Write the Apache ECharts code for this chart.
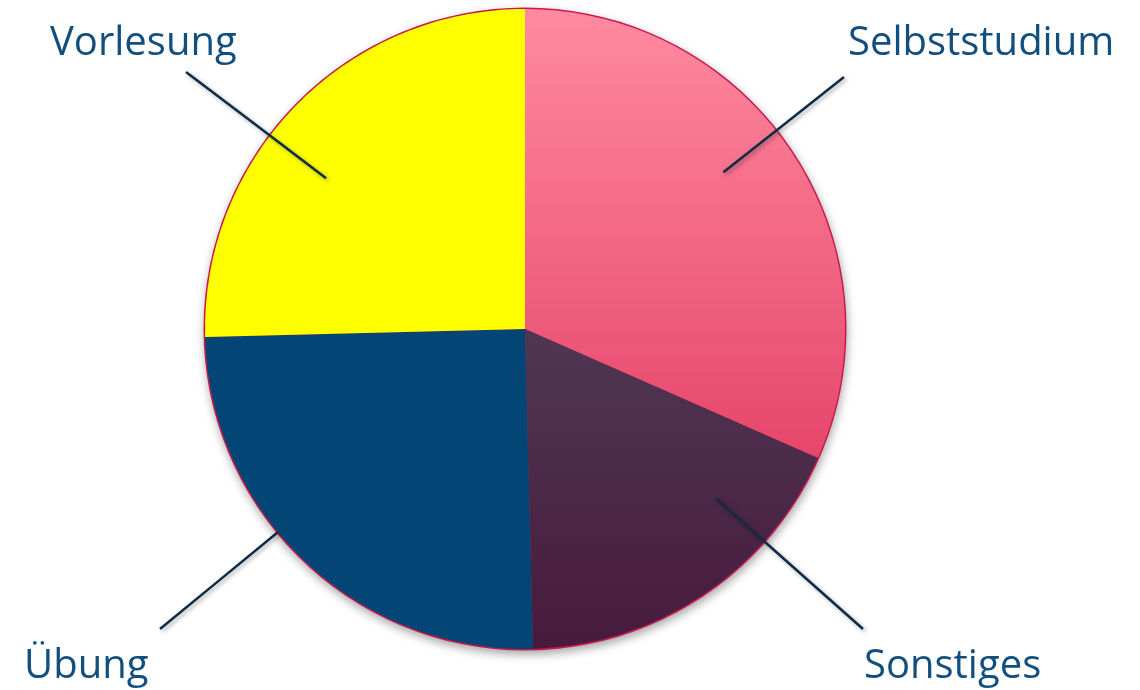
<!DOCTYPE html>
<html>
<head>
<meta charset="utf-8">
<script src="https://cdn.jsdelivr.net/npm/echarts@6/dist/echarts.min.js"></script>
<style>
  html, body { margin: 0; padding: 0; background: #fff; }
  #chart { width: 1140px; height: 690px; }
</style>
</head>
<body>
<div id="chart"></div>
<script>
// Anteile je Lernform (in %)
var categories = ['Selbststudium', 'Sonstiges', 'Übung', 'Vorlesung'];
var shares = [31.6, 18.0, 25.0, 25.4];

var pieCenter = [525, 329];
var pieRadius = 320;

// Füllungen je Segment
var fills = {
  'Selbststudium': new echarts.graphic.LinearGradient(0, 0, 0, 1, [
    { offset: 0, color: '#ff8a9f' },
    { offset: 1, color: '#e6466b' }
  ]),
  'Sonstiges': new echarts.graphic.LinearGradient(0, 0, 0, 1, [
    { offset: 0, color: '#4f3752' },
    { offset: 1, color: '#481a3d' }
  ]),
  'Übung': '#034575',
  'Vorlesung': '#ffff00'
};

// Lage der Beschriftungen und Endpunkte der Führungslinien
var labelSpots = {
  'Vorlesung':     { x: 50,  y: 44,  endX: 186, endY: 72,  startR: 0.78 },
  'Selbststudium': { x: 848, y: 44,  endX: 844, endY: 77,  startR: 0.79 },
  'Sonstiges':     { x: 864, y: 667, endX: 863, endY: 629, startR: 0.8 },
  'Übung':         { x: 24,  y: 667, endX: 160, endY: 629, startR: 1.0 }
};

var total = 0;
shares.forEach(function (v) { total += v; });

var pieData = categories.map(function (name, i) {
  return { name: name, value: shares[i], itemStyle: { color: fills[name] } };
});

var chart = echarts.init(document.getElementById('chart'));

var option = {
  animation: false,
  series: [
    {
      // Rand und Schatten der Torte
      type: 'pie',
      silent: true,
      z: 1,
      center: pieCenter,
      radius: pieRadius + 1.5,
      label: { show: false },
      labelLine: { show: false },
      emphasis: { disabled: true },
      itemStyle: {
        color: '#c8194f',
        borderWidth: 0,
        shadowBlur: 10,
        shadowOffsetX: 1,
        shadowOffsetY: 4,
        shadowColor: 'rgba(0,0,0,0.35)'
      },
      data: [{ value: total, name: 'rim' }]
    },
    {
      type: 'pie',
      z: 2,
      center: pieCenter,
      radius: pieRadius,
      startAngle: 90,
      clockwise: true,
      emphasis: { disabled: true },
      itemStyle: { borderWidth: 0 },
      label: { show: false },
      labelLine: { show: false },
      data: pieData
    },
    {
      // gleiche Daten, unsichtbar, nur für Beschriftungen und Linien über der Torte
      type: 'pie',
      z: 3,
      silent: true,
      center: pieCenter,
      radius: pieRadius,
      startAngle: 90,
      clockwise: true,
      avoidLabelOverlap: false,
      emphasis: { disabled: true },
      itemStyle: { color: 'rgba(0,0,0,0)', borderWidth: 0 },
      label: {
        show: true,
        position: 'outside',
        formatter: '{b}',
        fontFamily: 'Open Sans',
        fontSize: 40,
        color: '#134f7e'
      },
      labelLine: {
        show: true,
        length: 10,
        length2: 0,
        lineStyle: {
          color: '#0f2b46',
          width: 2.5,
          shadowBlur: 4,
          shadowOffsetX: 2,
          shadowOffsetY: 2,
          shadowColor: 'rgba(0,0,0,0.35)'
        }
      },
      labelLayout: function (params) {
        var s = labelSpots[categories[params.dataIndex]];
        var dx = s.endX - pieCenter[0];
        var dy = s.endY - pieCenter[1];
        var d = Math.sqrt(dx * dx + dy * dy);
        var r = pieRadius * s.startR;
        var start = [pieCenter[0] + dx / d * r, pieCenter[1] + dy / d * r];
        var end = [s.endX, s.endY];
        var mid = [(start[0] + end[0]) / 2, (start[1] + end[1]) / 2];
        return {
          x: s.x,
          y: s.y,
          align: 'left',
          verticalAlign: 'middle',
          labelLinePoints: [start, mid, end]
        };
      },
      data: categories.map(function (name, i) {
        return { name: name, value: shares[i] };
      })
    }
  ]
};

chart.setOption(option);
</script>
</body>
</html>
